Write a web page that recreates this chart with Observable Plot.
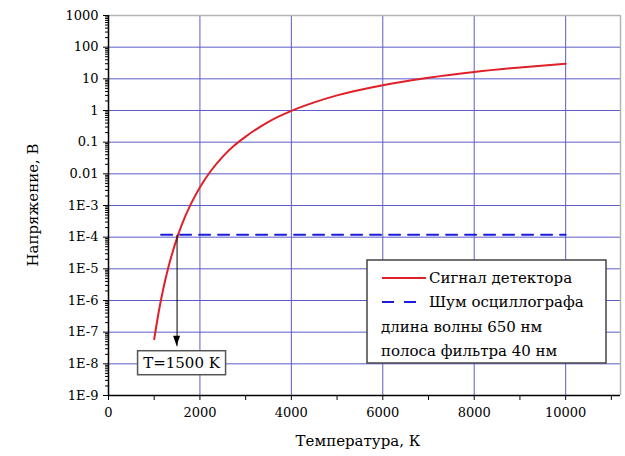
<!DOCTYPE html>
<html>
<head>
<meta charset="utf-8">
<script src="https://cdn.jsdelivr.net/npm/d3@7"></script>
<script src="https://cdn.jsdelivr.net/npm/@observablehq/plot@0.6"></script>
<style>
  html, body { margin: 0; padding: 0; background: white; }
  svg { display: block; }
</style>
</head>
<body>
<div id="chart"></div>
<script>
// ---- data ----
const signalT = [1000, 1100, 1200, 1300, 1400, 1500, 1600, 1800, 2000, 2250, 2500, 2750, 3000, 3500, 4000, 4500, 5000, 6000, 7000, 8000, 9000, 10000];
const signalV = [6.0e-8, 4.5e-7, 2.4e-6, 9.9e-6, 3.3e-5, 9.5e-5, 2.4e-4, 1.1e-3, 3.8e-3, 1.3e-2, 3.5e-2, 7.8e-2, 0.15, 0.44, 0.97, 1.8, 3.0, 6.3, 10.8, 16.4, 22.9, 30.1];
const noiseT = [1150, 10000];
const noiseV = [1.2e-4, 1.2e-4];
const xTicks = [0, 2000, 4000, 6000, 8000, 10000];
const xMinorTicks = [1000, 3000, 5000, 7000, 9000, 11000];
const xGrid = [2000, 4000, 6000, 8000, 10000];
const yTicks = [1000, 100, 10, 1, 0.1, 0.01, 1e-3, 1e-4, 1e-5, 1e-6, 1e-7, 1e-8, 1e-9];
const yTickLabels = ["1000", "100", "10", "1", "0.1", "0.01", "1E-3", "1E-4", "1E-5", "1E-6", "1E-7", "1E-8", "1E-9"];
const yGrid = [100, 10, 1, 0.1, 0.01, 1e-3, 1e-4, 1e-5, 1e-6, 1e-7, 1e-8];
const legendLabels = ["Сигнал детектора", "Шум осциллографа", "длина волны 650 нм", "полоса фильтра 40 нм"];
const annotT = 1500;
const annotV = 1.2e-4;
const annotEndV = 3.6e-8;
const annotLabel = "T=1500 K";
const xTitle = "Температура, К";
const yTitle = "Напряжение, В";

const signal = signalT.map((t, i) => ({T: t, V: signalV[i]}));
const noise = noiseT.map((t, i) => ({T: t, V: noiseV[i]}));
const yLabelMap = new Map(yTicks.map((v, i) => [v, yTickLabels[i]]));
const yMinor = [];
for (let e = -9; e < 3; e++) for (let m = 2; m <= 9; m++) yMinor.push(m * Math.pow(10, e));

const W = 625, H = 456;
const M = {top: 15, right: 5, bottom: 61, left: 108};
const gridColor = "#5c5cc8";
const font = "DejaVu Serif";

const chart = Plot.plot({
  width: W,
  height: H,
  marginTop: M.top,
  marginRight: M.right,
  marginBottom: M.bottom,
  marginLeft: M.left,
  style: {fontFamily: font, fontSize: "13px", color: "black", background: "white", overflow: "visible"},
  x: {domain: [0, 11200]},
  y: {type: "log", domain: [1e-9, 1000]},
  marks: [
    Plot.ruleY(yGrid, {stroke: gridColor, strokeWidth: 1}),
    Plot.ruleX(xGrid, {stroke: gridColor, strokeWidth: 1}),
    Plot.ruleY([1000], {stroke: "#b4b4b4", strokeWidth: 1.5}),
    Plot.ruleX([11200], {stroke: "#b4b4b4", strokeWidth: 1.5}),
    Plot.line(noise, {x: "T", y: "V", stroke: "#1c1cdc", strokeWidth: 2, strokeDasharray: "11,8"}),
    Plot.line(signal, {x: "T", y: "V", stroke: "#e02028", strokeWidth: 2, curve: "monotone-x"}),
    Plot.link([{T: annotT, V1: annotV, V2: annotEndV}], {x1: "T", x2: "T", y1: "V1", y2: "V2", stroke: "black", strokeWidth: 1}),
    Plot.axisY({ticks: yMinor, tickFormat: () => "", tickSize: 3, label: null, stroke: "black"}),
    Plot.axisY({ticks: yTicks, tickFormat: d => yLabelMap.get(d), tickSize: 5, tickPadding: 5, label: null, fontSize: 13, stroke: "black", fill: "black"}),
    Plot.axisX({ticks: xMinorTicks, tickFormat: () => "", tickSize: 5, label: null}),
    Plot.axisX({ticks: xTicks, tickFormat: d => String(d), tickSize: 5, tickPadding: 7, label: null, fontSize: 13}),
    Plot.ruleX([0], {stroke: "black", strokeWidth: 1.5}),
    Plot.ruleY([1e-9], {stroke: "black", strokeWidth: 1.5})
  ]
});

document.getElementById("chart").appendChild(chart);

const xs = chart.scale("x"), ys = chart.scale("y");
const svg = d3.select(chart);

// axis titles
svg.append("text")
  .attr("x", (M.left + W - M.right) / 2 - 6)
  .attr("y", H - 10)
  .attr("text-anchor", "middle")
  .attr("font-size", 15).attr("fill", "black")
  .text(xTitle);
svg.append("text")
  .attr("transform", `translate(38,${(M.top + H - M.bottom) / 2}) rotate(-90)`)
  .attr("text-anchor", "middle")
  .attr("font-size", 15).attr("fill", "black")
  .text(yTitle);

// annotation arrowhead and label box
const ax = xs.apply(annotT), ay = ys.apply(annotEndV);
svg.append("path")
  .attr("d", `M${ax - 3.5},${ay - 10}L${ax + 3.5},${ay - 10}L${ax},${ay}Z`)
  .attr("fill", "black");
const bx = ax + 5, by = ay + 17;
svg.append("rect")
  .attr("x", bx - 44).attr("y", by - 12).attr("width", 88).attr("height", 24)
  .attr("fill", "white").attr("stroke", "#555").attr("stroke-width", 1.5);
svg.append("text")
  .attr("x", bx).attr("y", by + 5.5)
  .attr("text-anchor", "middle")
  .attr("font-size", 15).attr("fill", "black")
  .text(annotLabel);

// legend
const lg = svg.append("g").attr("transform", `translate(${W - M.right - 253},260)`);
lg.append("rect").attr("x", 0).attr("y", 0).attr("width", 239).attr("height", 103)
  .attr("fill", "white").attr("stroke", "#444").attr("stroke-width", 1.5);
lg.append("line").attr("x1", 15).attr("x2", 59).attr("y1", 18).attr("y2", 18)
  .attr("stroke", "#e02028").attr("stroke-width", 2);
lg.append("line").attr("x1", 15).attr("x2", 59).attr("y1", 42).attr("y2", 42)
  .attr("stroke", "#1c1cdc").attr("stroke-width", 2).attr("stroke-dasharray", "12,10");
const lx = [62, 62, 14, 14];
const lyy = [23, 47, 72, 96];
legendLabels.forEach((t, i) => {
  lg.append("text").attr("x", lx[i]).attr("y", lyy[i])
    .attr("text-anchor", "start")
    .attr("font-size", 15).attr("fill", "black")
    .text(t);
});

chart.setAttribute("font-family", font);
chart.querySelectorAll("text, g").forEach(el => {
  el.setAttribute("font-family", font);
  el.style.fontFamily = font;
});
</script>
</body>
</html>
